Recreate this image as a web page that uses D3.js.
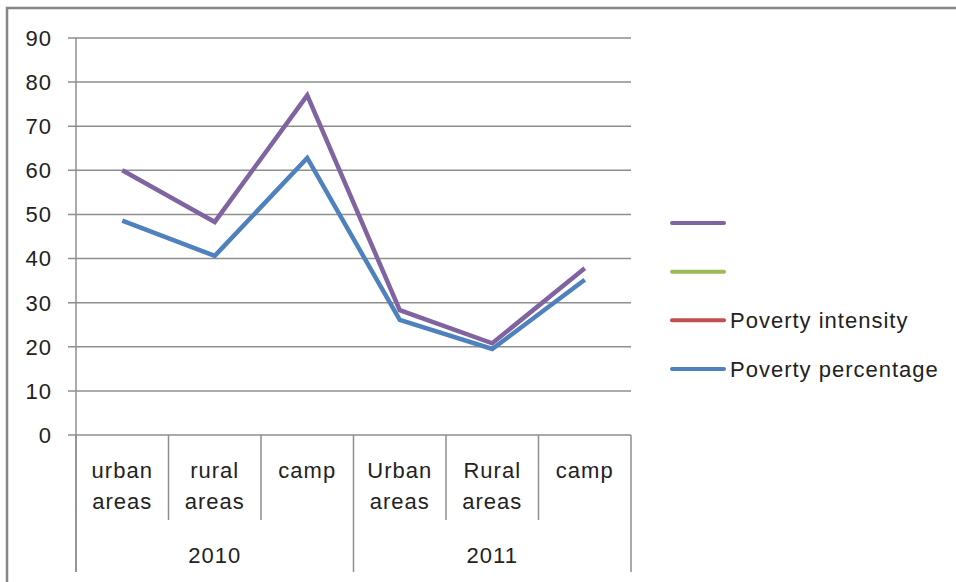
<!DOCTYPE html>
<html lang="en">
<head>
	<meta charset="utf-8">
	<script src="https://d3js.org/d3.v7.min.js"></script>
	<style>
		body {margin:0; background:#fff;}
		text {font-family: "Liberation Sans", Arial, sans-serif; fill:#222; letter-spacing:1px;}
	</style>
</head>
<body>
<script>
	// chart data
	var categories = ["urban areas", "rural areas", "camp", "Urban areas", "Rural areas", "camp"];
	var years = ["2010", "2011"];
	var yTicks = [0, 10, 20, 30, 40, 50, 60, 70, 80, 90];
	var seriesNames = ["", "", "Poverty intensity", "Poverty percentage"];
	var seriesColors = ["#8064A2", "#9BBB59", "#C0504D", "#4F81BD"];
	var purpleValues = [60, 48.3, 77, 28.3, 20.8, 37.8];
	var percentValues = [48.6, 40.6, 62.8, 26.1, 19.5, 35.2];

	var width = 956, height = 582;
	var svg = d3.select("body").append("svg")
		.attr("width", width)
		.attr("height", height);

	// outer frame (top and left edges visible)
	svg.append("path")
		.attr("d", "M7,582 V8 H956")
		.attr("fill", "none")
		.attr("stroke", "#858585")
		.attr("stroke-width", 2.5);

	var x = d3.scaleBand()
		.domain(d3.range(categories.length))
		.range([76, 631])
		.paddingInner(0).paddingOuter(0);

	var y = d3.scaleLinear()
		.domain([0, 90])
		.range([435, 38]);

	var grid = "#8e8e8e";

	// horizontal gridlines
	svg.selectAll("line.grid").data(yTicks).enter()
		.append("line")
		.attr("class", "grid")
		.attr("x1", 68)
		.attr("x2", 631)
		.attr("y1", function(d) {return y(d);})
		.attr("y2", function(d) {return y(d);})
		.attr("stroke", grid)
		.attr("stroke-width", 1.5);

	// y axis line
	svg.append("line")
		.attr("x1", 76).attr("x2", 76)
		.attr("y1", y(90)).attr("y2", 572)
		.attr("stroke", grid).attr("stroke-width", 1.5);

	svg.selectAll("text.ytick").data(yTicks).enter()
		.append("text")
		.attr("class", "ytick")
		.attr("x", 52)
		.attr("y", function(d) {return y(d);})
		.attr("dy", "0.36em")
		.attr("text-anchor", "end")
		.attr("font-size", 22)
		.text(function(d) {return d;});

	// category separators
	var bounds = d3.range(categories.length + 1).map(function(i) {
		return i < categories.length ? x(i) : x(categories.length - 1) + x.bandwidth();
	});
	svg.selectAll("line.sep").data(bounds).enter()
		.append("line")
		.attr("class", "sep")
		.attr("x1", function(d) {return d;})
		.attr("x2", function(d) {return d;})
		.attr("y1", y(0))
		.attr("y2", function(d, i) {return i % 3 === 0 ? 572 : 520;})
		.attr("stroke", grid)
		.attr("stroke-width", 1.5);

	// category labels (two lines)
	var catText = svg.selectAll("text.cat").data(categories).enter()
		.append("text")
		.attr("class", "cat")
		.attr("text-anchor", "middle")
		.attr("font-size", 22);
	catText.each(function(d, i) {
		var words = d.split(" ");
		var t = d3.select(this);
		words.forEach(function(w, j) {
			t.append("tspan")
				.attr("x", x(i) + x.bandwidth() / 2)
				.attr("y", 478 + j * 31)
				.text(w);
		});
	});

	// year labels
	svg.selectAll("text.year").data(years).enter()
		.append("text")
		.attr("class", "year")
		.attr("text-anchor", "middle")
		.attr("font-size", 22)
		.attr("x", function(d, i) {return (bounds[i * 3] + bounds[i * 3 + 3]) / 2;})
		.attr("y", 563)
		.text(function(d) {return d;});

	// lines
	var line = d3.line()
		.x(function(d, i) {return x(i) + x.bandwidth() / 2;})
		.y(function(d) {return y(d);});

	svg.append("path")
		.datum(percentValues)
		.attr("d", line)
		.attr("fill", "none")
		.attr("stroke", seriesColors[3])
		.attr("stroke-width", 4.5);

	svg.append("path")
		.datum(purpleValues)
		.attr("d", line)
		.attr("fill", "none")
		.attr("stroke", seriesColors[0])
		.attr("stroke-width", 4.5);

	// legend
	var legendY = d3.scalePoint()
		.domain(d3.range(seriesNames.length))
		.range([223, 369]);

	var leg = svg.selectAll("g.legend").data(seriesNames).enter()
		.append("g")
		.attr("class", "legend")
		.attr("transform", function(d, i) {return "translate(0," + legendY(i) + ")";});
	leg.append("line")
		.attr("x1", 672).attr("x2", 724)
		.attr("stroke", function(d, i) {return seriesColors[i];})
		.attr("stroke-width", 4)
		.attr("stroke-linecap", "round");
	leg.append("text")
		.attr("x", 730)
		.attr("dy", "0.36em")
		.attr("font-size", 22)
		.text(function(d) {return d;});
</script>
</body>
</html>
